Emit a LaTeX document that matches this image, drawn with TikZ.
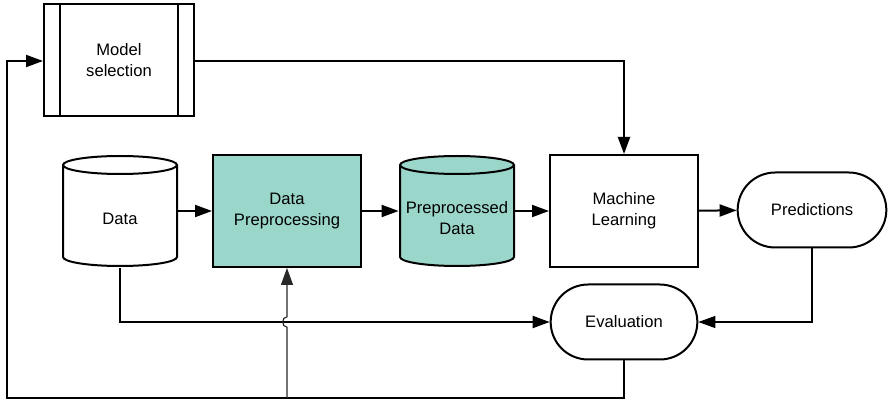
\documentclass[tikz,border=0pt]{standalone}
\usepackage{fontspec}
\setmainfont{Liberation Sans}
\usetikzlibrary{positioning,arrows.meta,shapes.misc}
\definecolor{tealFill}{RGB}{155,214,203}
\definecolor{hopLine}{RGB}{40,40,40}
% text of a drum sits below its top cap
\newcommand{\drumtext}[1]{\raisebox{-4.5pt}[\height][\depth]{\begin{tabular}{@{}c@{}}#1\end{tabular}}}

\begin{document}
\begin{tikzpicture}[x=0.5pt,y=-0.5pt,font=\fontsize{8.3}{10.3}\selectfont,>={Triangle[length=8.5pt,width=6pt]},
  proc/.style ={draw,line width=1pt,align=center,minimum width=74pt,minimum height=56pt,inner sep=2pt},
  sub/.style  ={proc,minimum width=75pt,path picture={\draw[line width=1pt]
      ([xshift=8pt]path picture bounding box.north west) -- ([xshift=8pt]path picture bounding box.south west)
      ([xshift=-8pt]path picture bounding box.north east) -- ([xshift=-8pt]path picture bounding box.south east);}},
  store/.style={minimum width=58pt,minimum height=57pt,align=center,inner sep=1pt,
    path picture={
      \filldraw[line width=1pt,fill=#1] ([xshift=0.5pt,yshift=-5.5pt]path picture bounding box.north west)
        -- ([xshift=0.5pt,yshift=5.5pt]path picture bounding box.south west)
        arc[start angle=180,end angle=360,x radius=28.5pt,y radius=4.5pt]
        -- ([xshift=-0.5pt,yshift=-5.5pt]path picture bounding box.north east)
        arc[start angle=0,end angle=180,x radius=28.5pt,y radius=4.5pt] -- cycle;
      \draw[line width=1pt] ([xshift=0.5pt,yshift=-5.5pt]path picture bounding box.north west)
        arc[start angle=180,end angle=360,x radius=28.5pt,y radius=4.5pt];}},
  store/.default=white,
  term/.style ={draw,line width=1pt,rounded rectangle,minimum width=80pt,minimum height=37.5pt,align=center},
  flow/.style ={->,line width=1pt},
  link/.style ={->,line width=0.6pt}]

\useasboundingbox (0,0) rectangle (895,406);

\node[sub]                  (model) at (119, 60) {Model\\selection};
\node[store]                (data)  at (120,211) {\drumtext{Data}};
\node[proc,fill=tealFill]   (prep)  at (287,211) {Data\\Preprocessing};
\node[store=tealFill]       (ppd)   at (457,211) {\drumtext{Preprocessed\\Data}};
\node[proc]                 (ml)    at (624,211) {Machine\\Learning};
\node[term,minimum width=81pt] (pred) at (812,210) {Predictions};
\node[term]                 (eval)  at (624,322) {Evaluation};

\coordinate (cornerL) at (7,398);
\coordinate (tap) at (prep.south |- cornerL);
\coordinate (hop) at (prep.south |- eval.west);

\draw[flow] (data) -- (prep);
\draw[flow] (prep) -- (ppd);
\draw[flow] (ppd) -- (ml);
\draw[flow] (ml) -- (pred);
\draw[flow] (model.east |- 0,61) -| (ml.north);
\draw[flow] (data.south) |- (eval.west);
\draw[link] (pred.south) |- (eval.east);
\draw[flow] (eval.south) |- (cornerL) |- (model.west |- 0,61);
\draw[link,hopLine] (tap) -- ([yshift=-2.6pt]hop) to[out=180,in=180,looseness=1.4] ([yshift=2.6pt]hop) -- (prep.south);
\end{tikzpicture}
\end{document}
